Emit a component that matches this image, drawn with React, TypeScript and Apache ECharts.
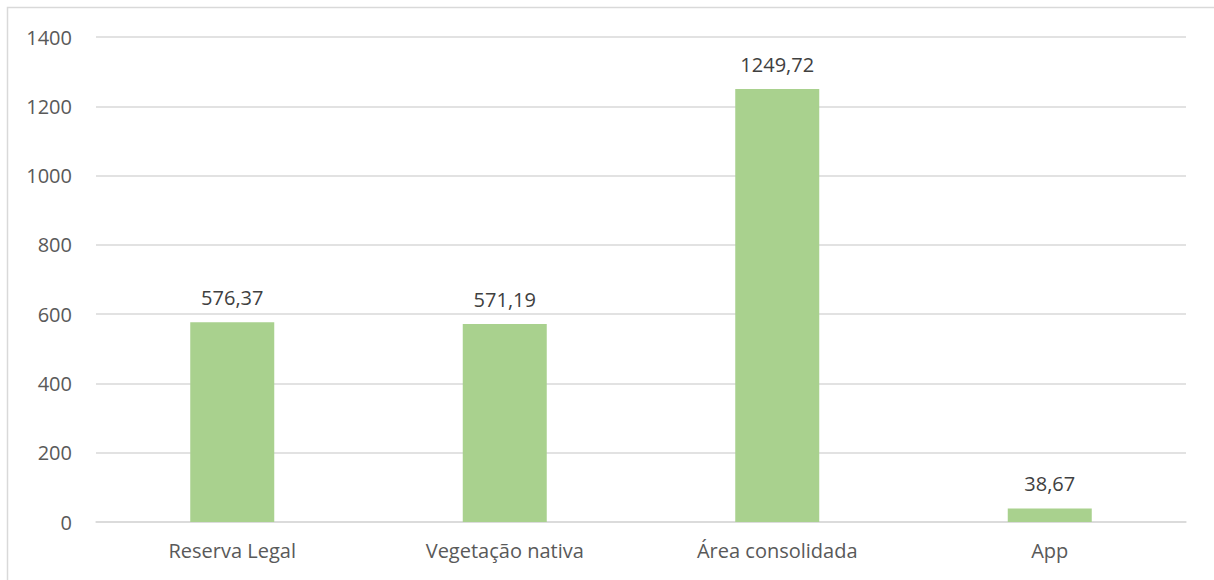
import React, { useEffect, useRef } from "react";
import * as echarts from "echarts";

const categories = ["Reserva Legal", "Vegetação nativa", "Área consolidada", "App"];
const values = [576.37, 571.19, 1249.72, 38.67];
const yTicks = { min: 0, max: 1400, interval: 200 };

const FONT = "'Open Sans', 'Liberation Sans', sans-serif";

export default function App() {
  const ref = useRef<HTMLDivElement>(null);
  useEffect(() => {
    if (!ref.current) return;
    const chart = echarts.init(ref.current, undefined, { renderer: "svg" });
    chart.setOption({
      animation: false,
      backgroundColor: "#ffffff",
      graphic: [
        {
          type: "rect",
          shape: { x: 7.5, y: 7.5, width: 1230, height: 600 },
          style: { fill: "none", stroke: "#d9d9d9", lineWidth: 1.5 },
          silent: true,
        },
      ],
      grid: { left: 96, right: 28, top: 37, bottom: 58, containLabel: false },
      xAxis: {
        type: "category",
        data: categories,
        axisLine: { show: true, lineStyle: { color: "#d9d9d9", width: 1.5 } },
        axisTick: { show: false },
        axisLabel: { color: "#595959", fontSize: 20, fontFamily: FONT, margin: 18 },
      },
      yAxis: {
        type: "value",
        min: yTicks.min,
        max: yTicks.max,
        interval: yTicks.interval,
        axisLine: { show: false },
        axisTick: { show: false },
        axisLabel: {
          color: "#595959",
          fontSize: 20,
          fontFamily: FONT,
          margin: 24,
          formatter: (v: number) => String(v),
        },
        splitLine: { lineStyle: { color: "#d9d9d9", width: 1.5 } },
      },
      series: [
        {
          type: "bar",
          data: values,
          barWidth: 84,
          itemStyle: { color: "#a9d18e" },
          label: {
            show: true,
            position: "top",
            distance: 15,
            color: "#404040",
            fontSize: 20,
            fontFamily: FONT,
            formatter: (p: any) => Number(p.value).toFixed(2).replace(".", ","),
          },
        },
      ],
    });
    return () => chart.dispose();
  }, []);
  return (
    <div
      ref={ref}
      style={{ position: "fixed", left: 0, top: 0, width: 1214, height: 580 }}
    />
  );
}
